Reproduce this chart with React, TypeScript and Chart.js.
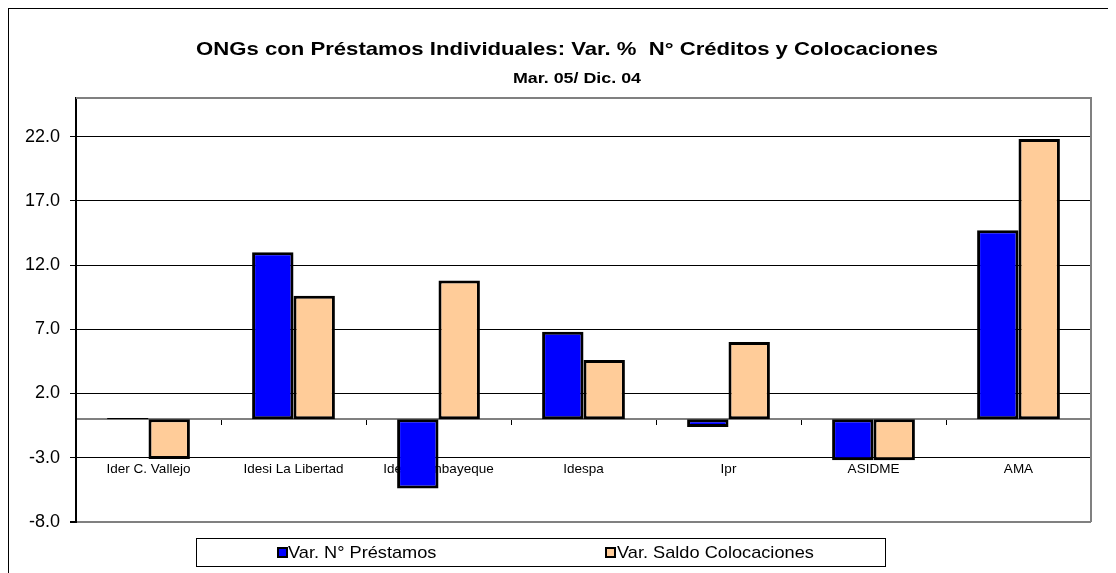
import React, { useEffect, useRef } from "react";
import { Chart, registerables } from "chart.js";

Chart.register(...registerables);

const categories = [
  "Ider C. Vallejo",
  "Idesi La Libertad",
  "Idesi Lambayeque",
  "Idespa",
  "Ipr",
  "ASIDME",
  "AMA",
];
const varPrestamos = [0.1, 13.0, -5.4, 6.8, -0.6, -3.2, 14.7];
const varColocaciones = [-3.1, 9.6, 10.8, 4.6, 6.0, -3.2, 21.8];
const yTickValues = [-8, -3, 2, 7, 12, 17, 22];
const seriesLabels = ["Var. N° Préstamos", "Var. Saldo Colocaciones"];
const seriesColors = ["#0000FF", "#FFCC99"];
const titleText = "ONGs con Préstamos Individuales: Var. %  N° Créditos y Colocaciones";
const subtitleText = "Mar. 05/ Dic. 04";

const FONT = "Arial, 'Liberation Sans', sans-serif";

function stretchedText(
  ctx: CanvasRenderingContext2D,
  text: string,
  x: number,
  y: number,
  sx: number,
  align: CanvasTextAlign
) {
  ctx.save();
  ctx.translate(x, y);
  ctx.scale(sx, 1);
  ctx.textAlign = align;
  ctx.fillText(text, 0, 0);
  ctx.restore();
}

export default function App() {
  const canvasRef = useRef<HTMLCanvasElement | null>(null);

  useEffect(() => {
    document.documentElement.style.overflow = "hidden";
    document.body.style.overflow = "hidden";
    const canvas = canvasRef.current;
    if (!canvas) return;

    const chrome = {
      id: "chrome",
      beforeDatasetsDraw(chart: any) {
        const { ctx, chartArea: a } = chart;
        ctx.save();
        ctx.strokeStyle = "#808080";
        ctx.lineWidth = 2;
        ctx.beginPath();
        ctx.moveTo(a.left, a.top);
        ctx.lineTo(a.right, a.top);
        ctx.lineTo(a.right, a.bottom);
        ctx.stroke();
        ctx.restore();
      },
      afterDraw(chart: any) {
        const { ctx } = chart;
        ctx.save();
        ctx.fillStyle = "#000";
        ctx.textBaseline = "middle";
        ctx.font = `bold 19px ${FONT}`;
        stretchedText(ctx, titleText, 558, 41, 1.165, "center");
        ctx.font = `bold 15px ${FONT}`;
        stretchedText(ctx, subtitleText, 568, 70, 1.19, "center");

        // legend box
        ctx.strokeStyle = "#000";
        ctx.lineWidth = 1;
        ctx.strokeRect(187.5, 529.5, 689, 28);
        const items = [
          { sq: 269, tx: 279 },
          { sq: 597, tx: 608 },
        ];
        ctx.font = `17px ${FONT}`;
        items.forEach((it, i) => {
          const ds = chart.data.datasets[i];
          ctx.fillStyle = ds.backgroundColor;
          ctx.fillRect(it.sq, 539, 9, 9);
          ctx.lineWidth = 2;
          ctx.strokeStyle = "#000";
          ctx.strokeRect(it.sq, 539, 9, 9);
          ctx.fillStyle = "#000";
          stretchedText(ctx, ds.label, it.tx, 544, 1.07, "left");
        });
        ctx.restore();
      },
    };

    const chart = new Chart(canvas, {
      type: "bar",
      data: {
        labels: categories,
        datasets: [
          {
            label: seriesLabels[0],
            data: varPrestamos,
            backgroundColor: seriesColors[0],
            borderColor: "#000",
            borderWidth: 3,
            borderSkipped: false,
            barPercentage: 1,
            categoryPercentage: 0.571,
          },
          {
            label: seriesLabels[1],
            data: varColocaciones,
            backgroundColor: seriesColors[1],
            borderColor: "#000",
            borderWidth: 3,
            borderSkipped: false,
            barPercentage: 1,
            categoryPercentage: 0.571,
          },
        ],
      },
      options: {
        animation: false,
        responsive: true,
        maintainAspectRatio: false,
        layout: { padding: { left: 0, right: 25, top: 89, bottom: 51 } },
        plugins: {
          legend: { display: false },
          title: { display: false },
          tooltip: { enabled: false },
        },
        scales: {
          x: {
            type: "category",
            position: { y: 0 } as any,
            grid: {
              drawOnChartArea: false,
              drawTicks: true,
              tickLength: 5,
              color: "#000",
              offset: true,
            },
            border: { display: true, color: "#808080", width: 2 },
            ticks: {
              color: "#000",
              font: { family: FONT, size: 13.5 },
              padding: 37,
              maxRotation: 0,
              autoSkip: false,
            },
          },
          y: {
            type: "linear",
            min: -8,
            max: 25,
            afterBuildTicks: (scale: any) => {
              scale.ticks = yTickValues.map((v) => ({ value: v }));
            },
            afterFit: (scale: any) => {
              scale.width = 67;
            },
            grid: {
              color: (c: any) => (c.tick && c.tick.value === -8 ? "#808080" : "#000"),
              lineWidth: (c: any) => (c.tick && c.tick.value === -8 ? 2 : 1),
              tickLength: 6,
              tickColor: "#000",
            },
            border: { display: true, color: "#000", width: 2 },
            ticks: {
              color: "#000",
              font: { family: FONT, size: 18 },
              padding: 10,
              callback: (v: any) => Number(v).toFixed(1),
            },
          },
        },
      },
      plugins: [chrome],
    });

    return () => chart.destroy();
  }, []);

  return (
    <div
      style={{
        borderLeft: "1px solid #000",
        borderTop: "1px solid #000",
        width: 1107,
        height: 564,
        position: "relative",
        background: "#fff",
      }}
    >
      <canvas ref={canvasRef} />
    </div>
  );
}
